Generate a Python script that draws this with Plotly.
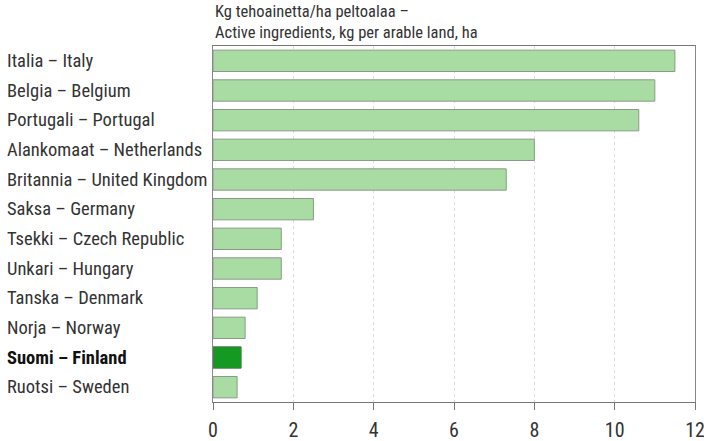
import plotly.graph_objects as go

countries = [
    "Italia – Italy",
    "Belgia – Belgium",
    "Portugali – Portugal",
    "Alankomaat – Netherlands",
    "Britannia – United Kingdom",
    "Saksa – Germany",
    "Tsekki – Czech Republic",
    "Unkari – Hungary",
    "Tanska – Denmark",
    "Norja – Norway",
    "Suomi – Finland",
    "Ruotsi – Sweden",
]
values = [11.5, 11.0, 10.6, 8.0, 7.3, 2.5, 1.7, 1.7, 1.1, 0.8, 0.7, 0.6]
highlight = "Suomi – Finland"
x_ticks = [0, 2, 4, 6, 8, 10, 12]

FONT = "Roboto Condensed, Liberation Sans Narrow, Roboto, sans-serif"
LIGHT = "#a9dca3"
DARK = "#149a22"

colors = [DARK if c == highlight else LIGHT for c in countries]
edges = ["#4d7a4d" if c == highlight else "#8a9a88" for c in countries]

fig = go.Figure()
fig.add_trace(go.Bar(
    x=values, y=countries,
    orientation="h",
    width=0.72,
    marker=dict(color=colors, line=dict(color=edges, width=1)),
    showlegend=False,
    hoverinfo="x+y",
))

# left-aligned category labels
for c in countries:
    bold = c == highlight
    fig.add_annotation(
        x=-0.432, xref="paper", y=c, yref="y",
        text=f"<b>{c}</b>" if bold else c,
        showarrow=False, xanchor="left", yanchor="middle",
        font=dict(family=FONT, size=18.5, color="#111" if bold else "#333"),
    )

fig.add_annotation(
    x=0.0, xref="paper", y=1.0, yref="paper", yshift=2,
    text="Kg tehoainetta/ha peltoalaa –<br>Active ingredients, kg per arable land, ha",
    showarrow=False, xanchor="left", yanchor="bottom", align="left",
    font=dict(family=FONT, size=16.5, color="#333"),
)

fig.update_layout(
    width=704, height=441,
    margin=dict(l=213, r=9, t=46, b=39, autoexpand=False),
    paper_bgcolor="white", plot_bgcolor="white",
    font=dict(family=FONT, color="#333"),
)
fig.update_xaxes(
    range=[0, 12], tickvals=x_ticks,
    showgrid=True, gridcolor="#dcdcdc", gridwidth=1, griddash="dot",
    showline=True, linecolor="#777", linewidth=1, mirror=True,
    ticks="outside", ticklen=7, tickcolor="#777",
    tickfont=dict(family=FONT, size=20, color="#333"),
    ticklabelstandoff=3, ticklabeloverflow="allow",
    zeroline=False, automargin=False,
)
fig.update_yaxes(
    autorange="reversed", showticklabels=False,
    showline=True, linecolor="#888", linewidth=1, mirror=True,
    showgrid=False, automargin=False,
)

fig.write_html("out.html", config={"displayModeBar": False})

# drop the browser's default page margin so the figure fills the window
with open("out.html", encoding="utf-8") as f:
    page = f.read()
page = page.replace("<body>", '<body style="margin:0;overflow:hidden">', 1)
with open("out.html", "w", encoding="utf-8") as f:
    f.write(page)
